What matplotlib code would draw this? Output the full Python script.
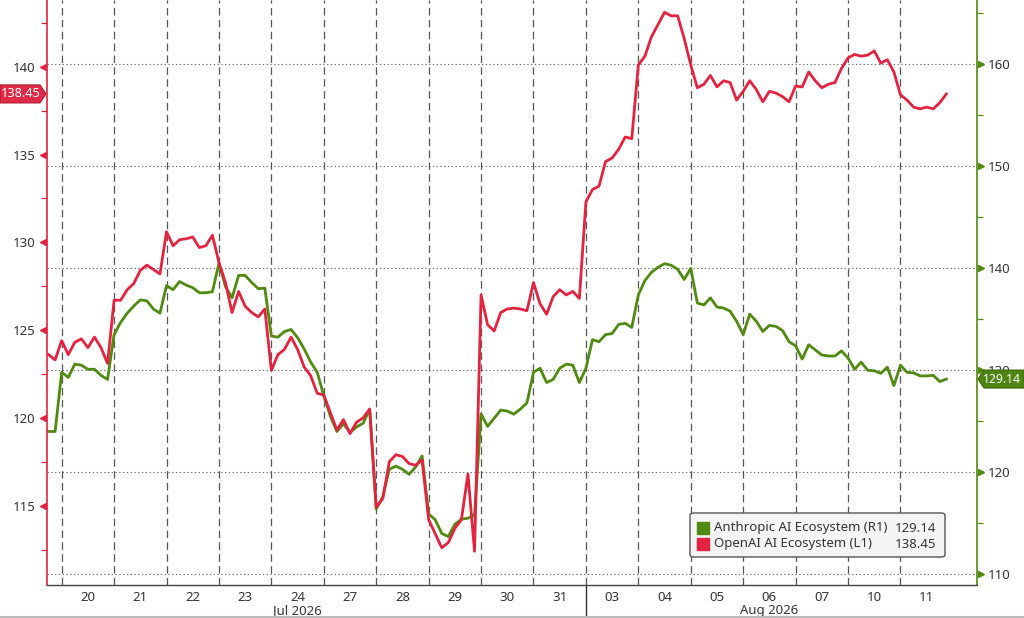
import numpy as np
import matplotlib
matplotlib.use("Agg")
import matplotlib.pyplot as plt
from matplotlib.patches import Polygon, FancyBboxPatch
from matplotlib.lines import Line2D
from matplotlib.transforms import blended_transform_factory, IdentityTransform
from matplotlib.ticker import FixedLocator

# ---------------- data ----------------
days = ["20", "21", "22", "23", "24", "27", "28", "29", "30", "31",
        "03", "04", "05", "06", "07", "10", "11"]
months = ["Jul 2026"] * 10 + ["Aug 2026"] * 7
pts_per_day = 8
pre_points = 2  # tail of the previous session (17 Jul)

# OpenAI AI Ecosystem (left axis, L1)
openai = [
    123.6, 123.3,
    124.4, 123.6, 124.3, 124.5, 124.0, 124.6, 124.0, 123.1,
    126.7, 126.7, 127.3, 127.65, 128.4, 128.7, 128.45, 128.2,
    130.6, 129.8, 130.15, 130.2, 130.3, 129.7, 129.8, 130.4,
    128.85, 127.7, 126.0, 127.2, 126.35, 126.0, 125.75, 126.2,
    122.7, 123.6, 123.9, 124.6, 123.9, 122.9, 122.4, 121.4,
    121.3, 120.3, 119.3, 119.9, 119.1, 119.75, 120.0, 120.5,
    114.9, 115.4, 117.5, 117.9, 117.8, 117.4, 117.3, 117.6,
    114.2, 113.4, 112.6, 112.9, 113.7, 114.2, 116.8, 112.4,
    127.0, 125.3, 124.95, 126.0, 126.2, 126.25, 126.2, 126.1,
    127.7, 126.5, 125.9, 126.9, 127.3, 127.0, 127.2, 126.8,
    132.3, 133.0, 133.2, 134.6, 134.8, 135.3, 136.0, 135.9,
    140.1, 140.6, 141.7, 142.4, 143.1, 142.9, 142.9, 141.6,
    140.1, 138.8, 139.0, 139.5, 138.85, 139.2, 139.1, 138.1,
    138.6, 139.2, 138.7, 138.0, 138.6, 138.5, 138.3, 138.0,
    138.9, 138.85, 139.7, 139.2, 138.8, 139.0, 139.1, 139.9,
    140.5, 140.7, 140.6, 140.66, 140.9, 140.2, 140.4, 139.7,
    138.4, 138.1, 137.7, 137.6, 137.7, 137.6, 137.95, 138.45,
]

# Anthropic AI Ecosystem (right axis, R1)
anthropic = [
    124.0, 124.0,
    129.8, 129.3, 130.6, 130.5, 130.1, 130.1, 129.5, 129.1,
    133.5, 134.7, 135.6, 136.3, 136.9, 136.8, 136.0, 135.6,
    138.3, 137.9, 138.7, 138.35, 138.1, 137.6, 137.6, 137.7,
    140.5, 138.2, 137.1, 139.3, 139.3, 138.6, 138.0, 138.05,
    133.35, 133.25, 133.8, 134.0, 133.2, 132.1, 130.8, 129.8,
    127.5, 125.5, 124.0, 124.75, 123.9, 124.45, 124.8, 126.2,
    116.4, 117.6, 120.3, 120.6, 120.3, 119.8, 120.5, 121.6,
    115.9, 115.35, 114.0, 113.7, 114.9, 115.4, 115.5, 115.8,
    125.7, 124.5, 125.3, 126.1, 126.0, 125.7, 126.2, 126.8,
    129.8, 130.2, 128.8, 129.1, 130.2, 130.6, 130.5, 128.8,
    130.2, 133.0, 132.8, 133.5, 133.6, 134.5, 134.6, 134.2,
    137.4, 138.8, 139.6, 140.1, 140.45, 140.3, 139.9, 138.9,
    140.0, 136.6, 136.4, 137.1, 136.2, 136.1, 135.8, 134.8,
    133.5, 135.5, 134.8, 133.8, 134.4, 134.3, 133.9, 132.8,
    132.4, 131.1, 132.5, 132.0, 131.5, 131.4, 131.4, 131.9,
    131.2, 130.1, 130.8, 130.0, 129.95, 129.7, 130.3, 128.5,
    130.5, 129.8, 129.75, 129.45, 129.45, 129.5, 128.9, 129.14,
]

series_names = ["Anthropic AI Ecosystem (R1)", "OpenAI AI Ecosystem (L1)"]
last_values = [129.14, 138.45]
left_ticks = [115, 120, 125, 130, 135, 140]
left_minor = [112.5, 117.5, 122.5, 127.5, 132.5, 137.5, 142.5]
right_ticks = [110, 120, 130, 140, 150, 160]
right_minor = [115, 125, 135, 145, 155, 165]

# ---------------- style ----------------
RED = "#e3233f"
RED_TAG = "#df2a48"
GREEN = "#508a10"
GREEN_TAG = "#4d8412"
TXT = "#333333"
FONT = "Noto Sans"
plt.rcParams["font.family"] = [FONT, "DejaVu Sans"]

W, H = 1024, 618
fig = plt.figure(figsize=(W / 100, H / 100), dpi=100, facecolor="white")
ax_l, ax_r, ax_b, ax_t = 47, 977, 585, 0
ax = fig.add_axes([ax_l / W, 1 - ax_b / H, (ax_r - ax_l) / W, (ax_b - ax_t) / H])
ax2 = ax.twinx()
ax.set_zorder(ax2.get_zorder() + 1)
ax.patch.set_visible(False)

x = (np.arange(len(openai)) - pre_points) / pts_per_day

ax.set_xlim(-0.28, 17.46)
ax.set_ylim(110.48, 143.8)
ax2.set_ylim(108.95, 166.3)

# grid: horizontal dotted (right axis majors), vertical dashed day separators
for v in right_ticks:
    ax2.axhline(v, color="#6a6a6a", lw=0.8, ls=(0, (1.2, 2.2)), zorder=0)
for k in range(len(days)):
    ax2.axvline(k, color="#555555", lw=0.9, ls=(0, (6, 3.5)), zorder=0)

ax2.plot(x, anthropic, color=GREEN, lw=2.0, zorder=3, solid_joinstyle="round")
ax.plot(x, openai, color=RED, lw=2.0, zorder=3, solid_joinstyle="round")

# spines
for s in ["top", "right"]:
    ax.spines[s].set_visible(False)
ax.spines["left"].set_color(RED)
ax.spines["left"].set_linewidth(1.2)
ax.spines["bottom"].set_color("#444444")
ax.spines["bottom"].set_linewidth(1.0)
for s in ["top", "left", "bottom"]:
    ax2.spines[s].set_visible(False)
ax2.spines["right"].set_color(GREEN)
ax2.spines["right"].set_linewidth(1.2)

# y ticks
ax.yaxis.set_major_locator(FixedLocator(left_ticks))
ax.yaxis.set_minor_locator(FixedLocator(left_minor))
ax.set_yticklabels([str(t) for t in left_ticks])
ax.tick_params(axis="y", which="major", length=0, pad=8, labelcolor=TXT, labelsize=9.5)
ax.tick_params(axis="y", which="minor", length=4, width=0.9, color=RED, direction="out")
ax2.yaxis.set_major_locator(FixedLocator(right_ticks))
ax2.yaxis.set_minor_locator(FixedLocator(right_minor))
ax2.set_yticklabels([str(t) for t in right_ticks])
ax2.tick_params(axis="y", which="major", length=0, pad=8, labelcolor=TXT, labelsize=9.5)
ax2.tick_params(axis="y", which="minor", length=4, width=0.9, color=GREEN, direction="out")

tl = blended_transform_factory(ax.transAxes, ax.transData)
ax.plot([-0.0045] * len(left_ticks), left_ticks, ls="none", marker="<", ms=5,
        color=RED, transform=tl, clip_on=False, zorder=5)
tr = blended_transform_factory(ax2.transAxes, ax2.transData)
ax2.plot([1.0045] * len(right_ticks), right_ticks, ls="none", marker=">", ms=5,
         color=GREEN, transform=tr, clip_on=False, zorder=5)

# x ticks
centers = np.arange(len(days)) + 0.5
ax.set_xticks(centers)
ax.set_xticklabels(days)
ax.tick_params(axis="x", length=0, pad=4, labelcolor=TXT, labelsize=9.5)
ax2.tick_params(axis="x", length=0)

bt = blended_transform_factory(ax.transData, ax.transAxes)
month_names = []
for m in months:
    if m not in month_names:
        month_names.append(m)
for m in month_names:
    idx = [i for i, mm in enumerate(months) if mm == m]
    mid = idx[(len(idx) - 1) // 2]
    ax.text(mid + 0.5, -0.044, m, transform=bt, ha="center", va="center",
            fontsize=9.5, color=TXT)
for i in range(1, len(months)):
    if months[i] != months[i - 1]:
        ax.add_line(Line2D([i, i], [0, -0.06], transform=bt, color="#333333",
                           lw=1.0, clip_on=False))

# legend
lx0, lx1 = (690 - ax_l) / (ax_r - ax_l), (945 - ax_l) / (ax_r - ax_l)
ly0, ly1 = (ax_b - 557) / ax_b, (ax_b - 513) / ax_b
ax.add_patch(FancyBboxPatch((lx0, ly0), lx1 - lx0, ly1 - ly0,
                            boxstyle="round,pad=0,rounding_size=0.004",
                            transform=ax.transAxes, facecolor="#f4f4f4",
                            edgecolor="#555555", lw=1.0, zorder=6))
row_y = [(ax_b - 528) / ax_b, (ax_b - 544) / ax_b]
colors = [GREEN, RED]
for name, val, col, yy in zip(series_names, last_values, colors, row_y):
    ax.plot([(703 - ax_l) / (ax_r - ax_l)], [yy], marker="s", ms=8.5, color=col,
            ls="none", transform=ax.transAxes, zorder=7, clip_on=False)
    ax.text((714 - ax_l) / (ax_r - ax_l), yy, name, transform=ax.transAxes,
            ha="left", va="center", fontsize=9.5, color=TXT, zorder=7)
    ax.text((936 - ax_l) / (ax_r - ax_l), yy, f"{val:.2f}", transform=ax.transAxes,
            ha="right", va="center", fontsize=9.5, color=TXT, zorder=7)

# last-value tags
fig.canvas.draw()
yl = ax.transData.transform((0, last_values[1]))[1]
yr = ax2.transData.transform((0, last_values[0]))[1]
h = 9
fig.add_artist(Polygon([(0, yl - h), (40, yl - h), (46, yl), (40, yl + h), (0, yl + h)],
                       closed=True, facecolor=RED_TAG, edgecolor="#b01830", lw=0.8,
                       transform=IdentityTransform(), zorder=10))
fig.text(21 / W, yl / H, f"{last_values[1]:.2f}", ha="center", va="center",
         color="white", fontsize=9.2, zorder=11)
fig.add_artist(Polygon([(978, yr), (984, yr + h), (1024, yr + h), (1024, yr - h), (984, yr - h)],
                       closed=True, facecolor=GREEN_TAG, edgecolor="#3c6a0c", lw=0.8,
                       transform=IdentityTransform(), zorder=10))
fig.text(1021 / W, yr / H, f"{last_values[0]:.2f}", ha="right", va="center",
         color="white", fontsize=8.8, zorder=11)

fig.add_artist(Line2D([0, 1], [1.5 / H, 1.5 / H], transform=fig.transFigure,
                      color="#bbbbbb", lw=1.5))

fig.savefig("out.png", dpi=100, facecolor="white")
